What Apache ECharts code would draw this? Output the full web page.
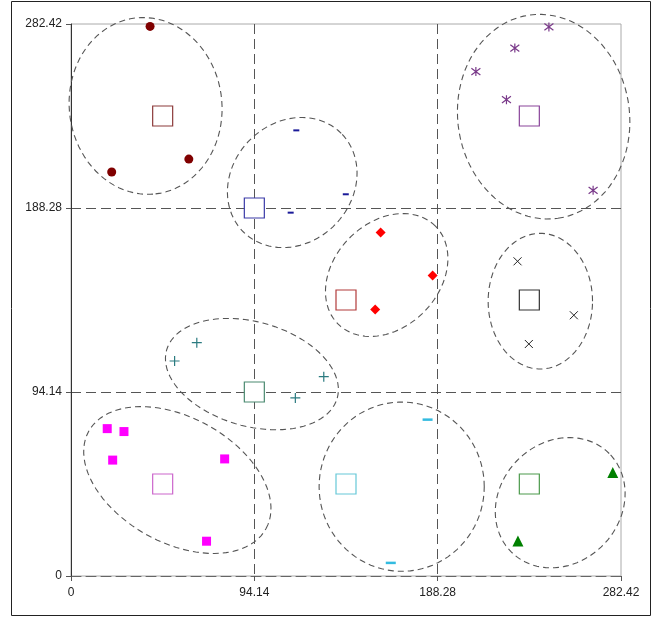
<!DOCTYPE html>
<html>
<head>
<meta charset="utf-8">
<script src="https://cdn.jsdelivr.net/npm/echarts@6/dist/echarts.min.js"></script>
<style>
html,body{margin:0;padding:0;background:#fff;}
#chart{width:658px;height:618px;}
</style>
</head>
<body>
<div id="chart"></div>
<script>
// ---------- data ----------
const tickLabels = ['0', '94.14', '188.28', '282.42'];
const axisMax = 282.42;
const axisStep = 94.14;

const darkRedPts = [[40.6, 281.2], [20.9, 206.7], [60.5, 213.3]];
const bluePts = [[115.7, 228.0], [112.8, 185.9], [141.1, 195.3]];
const purplePts = [[245.4, 280.9], [227.9, 270.1], [207.9, 258.1], [223.6, 243.7], [268.1, 197.3]];
const redPts = [[159.0, 175.8], [185.7, 153.7], [156.2, 136.4]];
const blackPts = [[229.3, 161.0], [258.2, 133.4], [235.1, 118.7]];
const tealPts = [[64.6, 119.4], [53.2, 110.0], [115.2, 91.1], [129.8, 102.0]];
const magentaPts = [[18.6, 75.4], [27.2, 73.9], [21.4, 59.3], [78.9, 59.9], [69.6, 17.8]];
const cyanPts = [[183.1, 80.0], [164.2, 6.7]];
const greenPts = [[278.2, 52.9], [229.5, 17.9]];

// centroids (one per cluster, same order as above)
const centroids = [
  [47.07, 235.35], [94.14, 188.28], [235.35, 235.35],
  [141.21, 141.21], [235.35, 141.21], [94.14, 94.14],
  [47.07, 47.07], [141.21, 47.07], [235.35, 47.07]
];
const centroidColors = ['#8c3a3a', '#3a3aa8', '#8a449a', '#b23b3b', '#333333', '#4a8a70', '#cc66cc', '#66c8d8', '#4c9a4c'];

// ellipses: [centerX, centerY, semiAxisA, semiAxisB, angleDeg]
const ellipses = [
  [38.3, 240.5, 45.3, 39.2, -83.5],
  [113.6, 201.3, 35.6, 30.8, 45],
  [242.7, 235.0, 52.5, 44.1, -82],
  [162.1, 154.0, 35.4, 26.9, 45],
  [241.0, 140.6, 26.8, 34.7, 0],
  [92.9, 103.3, 45.5, 26.7, -15.6],
  [54.6, 49.1, 51.9, 32.1, -28.6],
  [169.8, 45.7, 42.4, 43.3, 0],
  [251.2, 37.5, 35.6, 30.9, 45]
];

// ---------- chart ----------
const chart = echarts.init(document.getElementById('chart'), null, {renderer: 'canvas'});
const font = 'Liberation Sans, Arial, sans-serif';
const labelFmt = v => tickLabels[Math.round(v / axisStep)];
const gridLine = {show: true, showMinLine: true, showMaxLine: false, lineStyle: {color: '#555', width: 1, type: [10, 5]}};

function strokeSeries(data, symbol, size, color, width) {
  return {
    type: 'scatter', data: data, symbol: symbol, symbolSize: size, silent: true, z: 3,
    itemStyle: {color: 'rgba(0,0,0,0)', borderColor: color, borderWidth: width || 1, opacity: 1}
  };
}
function fillSeries(data, symbol, size, color) {
  return {type: 'scatter', data: data, symbol: symbol, symbolSize: size, silent: true, z: 3, itemStyle: {color: color, opacity: 1}};
}

const series = [
  {
    type: 'custom', data: ellipses, clip: false, silent: true, z: 2,
    encode: {x: 0, y: 1},
    renderItem: function (params, api) {
      const cx = api.value(0), cy = api.value(1), a = api.value(2), b = api.value(3);
      const th = api.value(4) * Math.PI / 180;
      const pts = [];
      const N = 90;
      for (let i = 0; i < N; i++) {
        const t = i / N * Math.PI * 2;
        const dx = a * Math.cos(t) * Math.cos(th) - b * Math.sin(t) * Math.sin(th);
        const dy = a * Math.cos(t) * Math.sin(th) + b * Math.sin(t) * Math.cos(th);
        pts.push(api.coord([cx + dx, cy + dy]));
      }
      return {type: 'polygon', shape: {points: pts}, style: {fill: 'none', stroke: '#555', lineWidth: 1.1, lineDash: [6, 4]}};
    }
  },
  fillSeries(darkRedPts, 'circle', 9, '#800000'),
  fillSeries(bluePts, 'rect', [6, 2], '#1a1a99'),
  strokeSeries(purplePts, 'path://M4,0L4,8M0,1L8,7M8,1L0,7', 9, '#7a3a8a', 1.2),
  fillSeries(redPts, 'diamond', 10, '#ff0000'),
  strokeSeries(blackPts, 'path://M0,0L8,8M8,0L0,8', 8, '#222', 1),
  strokeSeries(tealPts, 'path://M4,0L4,8M0,4L8,4', 10, '#2b7b80', 1.2),
  fillSeries(magentaPts, 'rect', 9, '#ff00ff'),
  fillSeries(cyanPts, 'rect', [10, 2.5], '#33bbe0'),
  fillSeries(greenPts, 'triangle', 11, '#008000'),
  {
    type: 'scatter', data: centroids.map((c, i) => ({value: c, itemStyle: {borderColor: centroidColors[i]}})),
    symbol: 'rect', symbolSize: 20, silent: true, z: 4,
    itemStyle: {color: '#fff', borderWidth: 1.2, opacity: 1}
  }
];

chart.setOption({
  animation: false,
  backgroundColor: '#fff',
  grid: {left: 71, top: 24, width: 550, height: 552, show: true, borderColor: '#aaa', borderWidth: 1, backgroundColor: 'transparent'},
  xAxis: {
    type: 'value', min: 0, max: axisMax, interval: axisStep,
    axisLine: {show: true, lineStyle: {color: '#666', width: 1, type: [10, 5]}},
    axisTick: {show: true, length: 5, lineStyle: {color: '#555'}},
    axisLabel: {formatter: labelFmt, color: '#222', fontFamily: font, fontSize: 12, margin: 11},
    splitLine: {show: true, showMinLine: false, showMaxLine: false, lineStyle: {color: '#555', width: 1, type: [10, 5]}}
  },
  yAxis: {
    type: 'value', min: 0, max: axisMax, interval: axisStep,
    axisLine: {show: true, lineStyle: {color: '#333', width: 1}},
    axisTick: {show: true, length: 5, lineStyle: {color: '#555'}},
    axisLabel: {formatter: labelFmt, color: '#222', fontFamily: font, fontSize: 12, margin: 9},
    splitLine: gridLine
  },
  graphic: [{
    type: 'rect', silent: true, z: 0,
    shape: {x: 11.5, y: 1.5, width: 639, height: 614},
    style: {fill: 'none', stroke: '#222', lineWidth: 1}
  }],
  series: series
});
</script>
</body>
</html>
